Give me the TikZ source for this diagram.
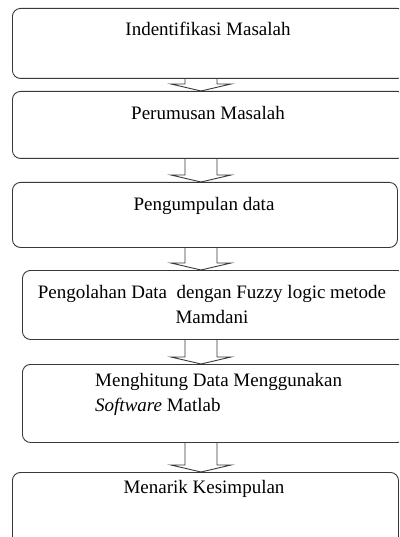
\documentclass[tikz,border=0pt]{standalone}
\usepackage{fontspec}
\setmainfont{Liberation Serif}
\usepackage{xcolor}
\colorlet{mygray}{black!78}
\usepackage{tikz}
\usetikzlibrary{calc}

\tikzset{
  stagebox/.style={draw=mygray, line width=0.9pt, rounded corners=8pt, anchor=north west, inner sep=0pt},
  stagetext/.style={anchor=north, inner sep=0pt, align=center, font=\fontsize{19pt}{25pt}\selectfont},
  blockarrow/.style={draw=mygray, line width=0.9pt}
}

\begin{document}
\begin{tikzpicture}
      \useasboundingbox (0pt,0pt) rectangle (399pt,-537pt);
      \clip (0pt,0pt) rectangle (399pt,-537pt);

      % the six stages
      \node[stagebox, minimum width=393pt, minimum height=70pt] (ident) at (12pt,-8pt) {};
      \node[stagebox, minimum width=393pt, minimum height=67pt] (rumus) at (12pt,-91pt) {};
      \node[stagebox, minimum width=385pt, minimum height=65pt] (kumpul) at (12pt,-182pt) {};
      \node[stagebox, minimum width=383pt, minimum height=69pt] (olah) at (22pt,-270pt) {};
      \node[stagebox, minimum width=383pt, minimum height=78pt] (hitung) at (22pt,-364pt) {};
      \node[stagebox, minimum width=386pt, minimum height=75pt] (simpul) at (12pt,-472pt) {};

      \node[stagetext] (identtext) at (208pt,-22pt) {Indentifikasi Masalah};
      \node[stagetext] (rumustext) at (208pt,-106pt) {Perumusan Masalah};
      \node[stagetext] (kumpultext) at (204pt,-197pt) {Pengumpulan data};
      \node[stagetext] (olahtext) at (212pt,-285pt) {Pengolahan Data\ \ dengan Fuzzy logic metode\\Mamdani};
      \node[stagetext, align=left, anchor=north west] (hitungtext) at (95pt,-373pt) {Menghitung Data Menggunakan\\\textit{Software} Matlab};
      \node[stagetext] (simpultext) at (204pt,-480pt) {Menarik Kesimpulan};

      % block arrows between the stages
      \coordinate (ax) at (201pt,0pt);
      \foreach \a/\b in {ident/rumus, rumus/kumpul, kumpul/olah, olah/hitung, hitung/simpul}{
        \draw[blockarrow] ($(\a.south -| ax)+(-16pt,0pt)$) -- ($(\b.north -| ax)+(-16pt,7pt)$) -- ++(-14pt,0pt)
          -- (\b.north -| ax) -- ++(30pt,7pt) -- ++(-14pt,0pt) -- ($(\a.south -| ax)+(16pt,0pt)$);
      }
\end{tikzpicture}
\end{document}
